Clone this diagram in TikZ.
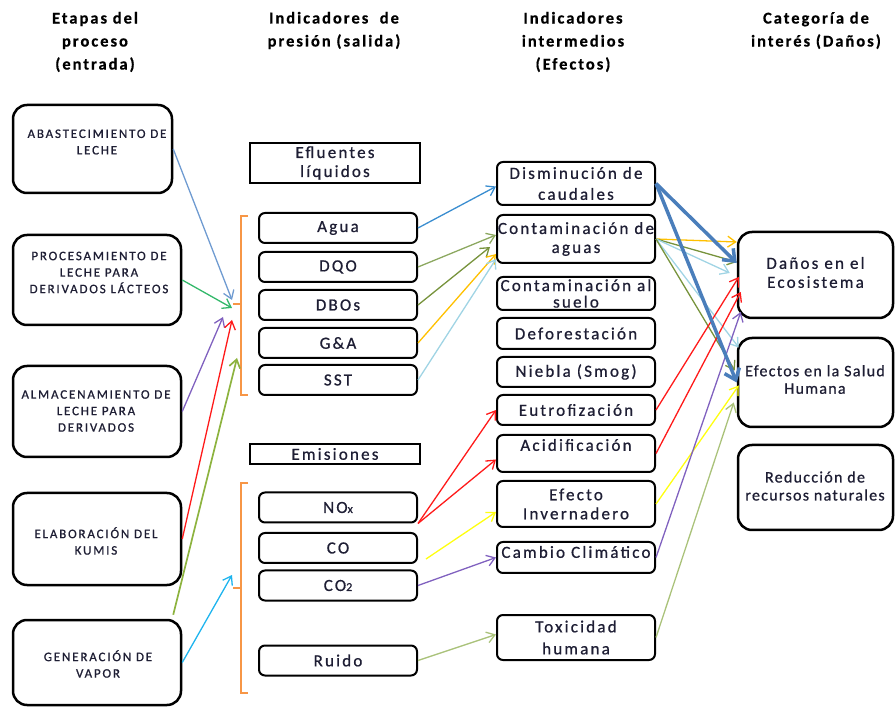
\documentclass[tikz,border=0pt]{standalone}
\usepackage{fontspec}
\setmainfont{Carlito}
\newfontfamily\cf[LetterSpace=13,FakeBold=0.8]{Carlito}
\newfontfamily\cfn[LetterSpace=8,FakeBold=0.8]{Carlito}
\newfontfamily\cfs[LetterSpace=14,FakeBold=0.8]{Carlito}
\newfontfamily\cfh[LetterSpace=12,FakeBold=0.5]{Carlito}
\usetikzlibrary{arrows.meta,calc}
\definecolor{txt}{HTML}{1E1E34}
\definecolor{cA}{HTML}{6F9BD1}
\definecolor{cB}{HTML}{33B86A}
\definecolor{cPur}{HTML}{8061BF}
\definecolor{cRed}{HTML}{FF1A1A}
\definecolor{cOl}{HTML}{8DB33F}
\definecolor{cCy}{HTML}{1EB4EE}
\definecolor{cAg}{HTML}{3A8DD0}
\definecolor{cDqo}{HTML}{8CA860}
\definecolor{cDbo}{HTML}{77933C}
\definecolor{cOr}{HTML}{FFC000}
\definecolor{cLb}{HTML}{A0D4E4}
\definecolor{cYe}{HTML}{FFFF10}
\definecolor{cRu}{HTML}{AAC27A}
\definecolor{cTb}{HTML}{4A7EBB}
\definecolor{cBr}{HTML}{F79646}
\begin{document}
\begin{tikzpicture}[x=1pt,y=-1pt,
  hdr/.style={font=\cfh\bfseries\fontsize{16.5}{23}\selectfont, align=center, inner sep=0pt, text=black},
  lbox/.style={draw=black, line width=2.5pt, rounded corners=14pt, inner sep=0pt},
  ltxt/.style={font=\cfs\fontsize{13}{16.5}\selectfont, align=center, inner sep=0pt, text=txt},
  sbox/.style={draw=black, line width=1.3pt, minimum width=170pt, inner sep=0pt, align=center, text=txt,
    font=\cf\fontsize{17}{19}\selectfont},
  mbox/.style={draw=black, line width=2pt, rounded corners=6pt, minimum width=158pt, minimum height=30pt,
    inner sep=0pt, align=center, text=txt, font=\cf\fontsize{17}{21}\selectfont},
  ctxt/.style={font=\cf\fontsize{17}{19}\selectfont, align=center, inner sep=0pt, text=txt},
  brk/.style={draw=cBr, line width=1.5pt},
  arr/.style={line width=1.3pt, -{Straight Barb[length=8pt,width=11pt]}},
  tarr/.style={draw=cTb, line width=3.5pt, -{Straight Barb[length=10pt,width=16pt]}}
]
\useasboundingbox (0,0) rectangle (895,708);

% headers
\node[hdr] (h1) at (95,42) {Etapas del\\proceso\\(entrada)};
\node[hdr] (h2) at (334,30.5) {Indicadores\ \ de\\presión (salida)};
\node[hdr] (h3) at (573,42) {Indicadores\\intermedios\\(Efectos)};
\node[hdr] (h4) at (816,30.5) {Categoría de\\interés (Daños)};

% left column
\node[lbox, minimum width=159pt, minimum height=88pt] (a1) at (92.5,149) {};
\node[ltxt] (a1t) at (97,142) {ABASTECIMIENTO DE\\LECHE};
\node[lbox, minimum width=168pt, minimum height=90pt] (a2) at (97,280) {};
\node[ltxt] (a2t) at (99,272.5) {PROCESAMIENTO DE\\LECHE PARA\\DERIVADOS LÁCTEOS};
\node[lbox, minimum width=168pt, minimum height=91pt] (a3) at (97,411.5) {};
\node[ltxt] (a3t) at (96,411) {ALMACENAMIENTO DE\\LECHE PARA\\DERIVADOS};
\node[lbox, minimum width=168pt, minimum height=92pt] (a4) at (97,539) {};
\node[ltxt] (a4t) at (96,541) {ELABORACIÓN DEL\\KUMIS};
\node[lbox, minimum width=168pt, minimum height=85pt] (a5) at (97,662.5) {};
\node[ltxt] (a5t) at (98,664) {GENERACIÓN DE\\VAPOR};

% section boxes
\node[sbox, minimum height=40pt] (ef) at (335,163) {Efluentes\\líquidos};
\node[sbox, minimum height=20pt] (em) at (335,454) {Emisiones};

% pressure indicators
\node[mbox] (agua) at (338,228) {Agua};
\node[mbox] (dqo) at (338,267) {DQO};
\node[mbox] (dbo) at (338,305) {DBOs};
\node[mbox] (ga) at (338,343) {G\&A};
\node[mbox] (sst) at (338,380) {SST};
\node[mbox] (nox) at (338,507.5) {NO{\fontsize{12}{12}\selectfont x}};
\node[mbox] (co) at (338,548) {CO};
\node[mbox] (co2) at (338,585.5) {CO{\fontsize{12}{12}\selectfont 2}};
\node[mbox] (ruido) at (338,660.5) {Ruido};

% brackets
\draw[brk] (248,216) -- (241,216) -- (241,395) -- (248,395);
\draw[brk] (241,304) -- (233,304);
\draw[brk] (248,483) -- (241,483) -- (241,693) -- (248,693);
\draw[brk] (241,588) -- (233,588);

% effects
\node[mbox, minimum height=43pt] (e1) at (576,183.5) {Disminución de\\caudales};
\node[mbox, minimum height=48pt, font=\cf\fontsize{17}{19}\selectfont] (e2) at (576,239) {Contaminación de\\aguas};
\node[mbox, minimum height=33pt, font=\cf\fontsize{17}{16.5}\selectfont] (e3) at (576,293.5) {Contaminación al\\suelo};
\node[mbox, minimum height=31pt] (e4) at (576,333.5) {Deforestación};
\node[mbox] (e5) at (576,372) {Niebla (Smog)};
\node[mbox] (e6) at (576,410) {Eutrofización};
\node[mbox, minimum height=37pt] (e7) at (576,453.5) {};
\node[ctxt] (e7t) at (576,445) {Acidificación};
\node[mbox, minimum height=46pt, font=\cf\fontsize{17}{19}\selectfont] (e8) at (576,504) {Efecto\\Invernadero};
\node[mbox, minimum height=31pt] (e9) at (576,557.5) {};
\node[ctxt] (e9t) at (576,552) {Cambio Climático};
\node[mbox, minimum height=45pt, font=\cf\fontsize{17}{22}\selectfont] (e10) at (576,637.5) {Toxicidad\\humana};

% categories
\node[lbox, minimum width=155pt, minimum height=86pt] (c1) at (815.5,275) {};
\node[ctxt] (c1t) at (815.5,272.5) {Daños en el\\Ecosistema};
\node[lbox, minimum width=155pt, minimum height=89pt] (c2) at (815.5,382.5) {};
\node[ctxt, font=\cfn\fontsize{16}{17.5}\selectfont] (c2t) at (815,379.5) {Efectos en la Salud\\Humana};
\node[lbox, minimum width=155pt, minimum height=85pt] (c3) at (815.5,487.5) {};
\node[ctxt, font=\cfn\fontsize{16}{18}\selectfont] (c3t) at (815,486) {Reducción de\\recursos naturales};

% tip coordinates near brackets
\coordinate (t1) at (232,300);
\coordinate (t2) at (232,308);
\coordinate (t3) at (223,317);
\coordinate (t4) at (232,320);
\coordinate (t5) at (237,358);
\coordinate (t6) at (232,575);

% left arrows
\draw[arr, cA] (a1.east) -- (t1);
\draw[arr, cB] (a2.east) -- (t2);
\draw[arr, cPur] (a3.east) -- (t3);
\draw[arr, cRed] (a4.east) -- (t4);
\draw[arr, cOl, line width=1.7pt] ($(a5.north east)+(-9,-4)$) -- (t5);
\draw[arr, cCy] (a5.east) -- (t6);

% pressure -> effects
\draw[arr, cAg] (agua.east) -- ($(e1.west)+(0,3)$);
\draw[arr, cDqo] (dqo.east) -- ($(e2.west)+(0,-4)$);
\draw[arr, cDbo] (dbo.east) -- ($(e2.west)+(-6,8)$);
\draw[arr, cOr] (ga.east) -- ($(e2.west)+(0,15)$);
\draw[arr, cLb] (sst.east) -- ($(e2.west)+(0,20)$);
\draw[arr, cRed] (nox.south east) -- (e6.west);
\draw[arr, cRed] (nox.south east) -- ($(e7.west)+(0,6)$);
\draw[arr, cYe] ($(co.south east)+(8,-5)$) -- ($(e8.west)+(0,8)$);
\draw[arr, cPur] (co2.east) -- (e9.west);
\draw[arr, cRu] (ruido.east) -- ($(e10.west)+(0,-3)$);

% effects -> categories
\draw[arr, cOr] (e2.east) -- ($(c1.west)+(0,-33)$);
\draw[arr, cDbo] (e2.east) -- ($(c1.west)+(0,-13)$);
\draw[arr, cLb] (e2.east) -- ($(c1.west)+(-7,-2)$);
\draw[arr, cLb] (e2.east) -- ($(c2.west)+(2,-35)$);
\draw[arr, cDbo] (e2.east) -- ($(c2.west)+(-2,-12)$);
\draw[arr, cRed] (e6.east) -- ($(c1.west)+(2,2)$);
\draw[arr, cRed] (e7.east) -- ($(c1.west)+(4,17)$);
\draw[arr, cYe] (e8.east) -- ($(c2.west)+(2,3)$);
\draw[arr, cPur] (e9.east) -- ($(c1.west)+(4,37)$);
\draw[arr, cRu] (e10.east) -- ($(c2.west)+(-3,20)$);
\draw[tarr] (e1.east) -- ($(c1.west)+(0,-12)$);
\draw[tarr] (e1.east) -- (c2.west);
\end{tikzpicture}
\end{document}
